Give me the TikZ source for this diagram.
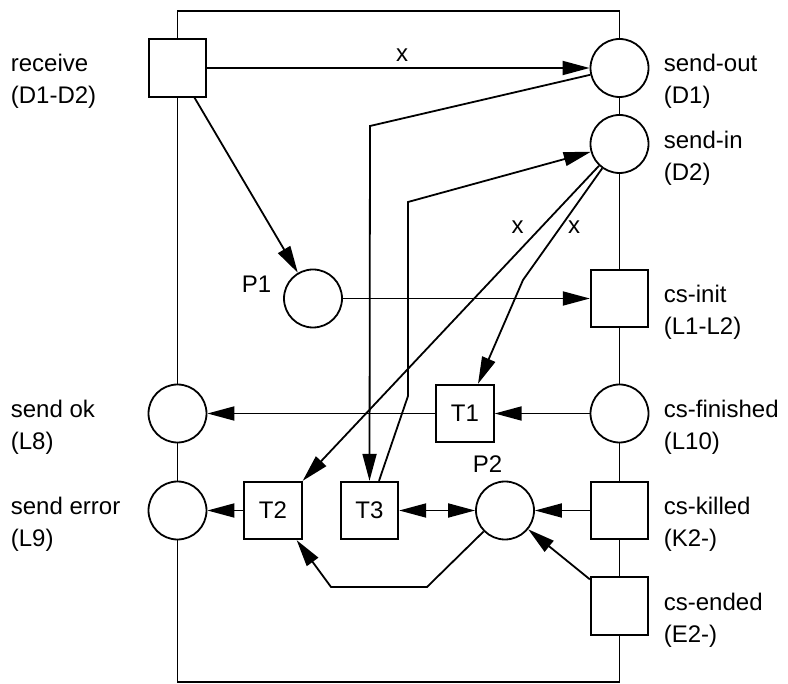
\documentclass[tikz,border=0pt]{standalone}
\usepackage{fontspec}
\setmainfont{Liberation Sans}
\usetikzlibrary{arrows.meta,calc}
\newcommand\twolab[5]{%
  \node[lab] (#1a) at (#2,#3) {#4};
  \node[lab] (#1b) at (#2,#3+32) {#5};}
\begin{document}
\begin{tikzpicture}[x=1pt,y=-1pt,line width=1.8pt,
  place/.style={circle,draw,fill=white,minimum size=58pt,inner sep=0pt},
  trans/.style={rectangle,draw,fill=white,minimum size=57.5pt,inner sep=0pt,font=\fontsize{24}{28}\selectfont},
  lab/.style={anchor=base west,inner sep=0pt,font=\fontsize{24}{28}\selectfont},
  xlab/.style={anchor=base,inner sep=0pt,font=\fontsize{24}{28}\selectfont},
  arr/.style={-{Triangle[length=27pt,width=14pt]}},
  darr/.style={{Triangle[length=27pt,width=14pt]}-{Triangle[length=27pt,width=14pt]}}]
\useasboundingbox (0,0) rectangle (788,684);
% frame
\coordinate (ftl) at (177.5,11);
\coordinate (fbr) at (619.5,682);
\draw (ftl) rectangle (fbr);
% nodes
\node[trans] (receive) at (177.5,68) {};
\node[place] (sendout) at (619.5,68) {};
\node[place] (sendin) at (619.5,144) {};
\node[place] (P1) at (313,298.5) {};
\node[trans] (csinit) at (619.5,298.5) {};
\node[place] (sendok) at (177.5,413.5) {};
\node[trans] (T1) at (465,413.5) {T1};
\node[place] (csfin) at (619.5,413.5) {};
\node[place] (senderr) at (177.5,510.5) {};
\node[trans] (T2) at (273,510.5) {T2};
\node[trans] (T3) at (369.5,510.5) {T3};
\node[place] (P2) at (505,510.5) {};
\node[trans] (cskilled) at (619.5,510.5) {};
\node[trans] (csended) at (619.5,606) {};
% labels
\twolab{lreceive}{10}{72}{receive}{(D1-D2)}
\twolab{lsendout}{663}{72}{send-out}{(D1)}
\twolab{lsendin}{663}{148.5}{send-in}{(D2)}
\twolab{lcsinit}{663}{303}{cs-init}{(L1-L2)}
\twolab{lsendok}{10}{418}{send ok}{(L8)}
\twolab{lcsfin}{663}{418}{cs-finished}{(L10)}
\twolab{lsenderr}{10}{515}{send error}{(L9)}
\twolab{lcskilled}{663}{515}{cs-killed}{(K2-)}
\twolab{lcsended}{663}{610.5}{cs-ended}{(E2-)}
\node[lab] (lP1) at (241,293) {P1};
\node[lab] (lP2) at (472,473) {P2};
\node[xlab] (x1) at (402,62) {x};
\node[xlab] (x2) at (517.5,234) {x};
\node[xlab] (x3) at (574,234) {x};
% connectors
\draw[arr] (receive) -- (sendout);
\draw[arr] ($(receive.south)+(17,0)$) -- (P1);
\draw[arr] (sendout) -- (370,126) -- (T3.north);
\draw[arr] ($(T3.north)+(9.5,0)$) -- (408,396) -- (408,202) -- (sendin);
\draw[arr] (sendin) -- (T2.north east);
\draw[arr] (sendin) -- (523,280) -- ($(T1.north)+(13,0)$);
\draw[arr] (P1) -- (csinit);
\draw[arr] (T1) -- (sendok);
\draw[arr] (csfin) -- (T1);
\draw[arr] (T2) -- (senderr);
\draw[darr] (T3) -- (P2);
\draw[arr] (cskilled) -- (P2);
\draw[arr] ($(csended.north west)+(0,3)$) -- (P2);
\draw[arr] (P2) -- (427,587) -- (331,587) -- ($(T2.south east)+(-6,0)$);
\end{tikzpicture}
\end{document}
